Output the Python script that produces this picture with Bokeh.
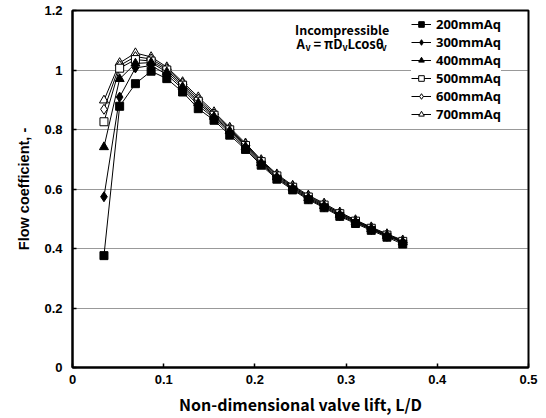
from bokeh.plotting import figure
from bokeh.models import Range1d, FixedTicker, Legend, LegendItem, Label
from bokeh.embed import file_html
from bokeh.resources import INLINE

# ---- data ----
ld = [0.0345, 0.0517, 0.0690, 0.0862, 0.1034, 0.1207, 0.1379, 0.1552, 0.1724, 0.1897,
      0.2069, 0.2241, 0.2414, 0.2586, 0.2759, 0.2931, 0.3103, 0.3276, 0.3448, 0.3621]

cf_200 = [0.376, 0.878, 0.954, 0.996, 0.971, 0.926, 0.870, 0.831, 0.781, 0.733,
          0.680, 0.633, 0.597, 0.564, 0.537, 0.508, 0.484, 0.461, 0.438, 0.415]
cf_300 = [0.574, 0.909, 1.007, 1.015, 0.985, 0.936, 0.881, 0.838, 0.789, 0.738,
          0.684, 0.637, 0.600, 0.567, 0.540, 0.511, 0.487, 0.464, 0.441, 0.420]
cf_400 = [0.741, 0.970, 1.022, 1.025, 0.993, 0.943, 0.889, 0.843, 0.795, 0.742,
          0.688, 0.640, 0.603, 0.570, 0.543, 0.514, 0.490, 0.466, 0.443, 0.422]
cf_500 = [0.826, 1.006, 1.035, 1.030, 1.000, 0.949, 0.895, 0.848, 0.799, 0.746,
          0.692, 0.644, 0.606, 0.573, 0.546, 0.517, 0.492, 0.468, 0.445, 0.424]
cf_600 = [0.868, 1.015, 1.045, 1.037, 1.005, 0.955, 0.902, 0.853, 0.803, 0.750,
          0.695, 0.647, 0.609, 0.576, 0.549, 0.519, 0.494, 0.470, 0.447, 0.426]
cf_700 = [0.898, 1.024, 1.057, 1.044, 1.010, 0.960, 0.909, 0.859, 0.807, 0.754,
          0.698, 0.650, 0.612, 0.579, 0.552, 0.522, 0.496, 0.472, 0.449, 0.428]

series_labels = ["200mmAq", "300mmAq", "400mmAq", "500mmAq", "600mmAq", "700mmAq"]
series_values = [cf_200, cf_300, cf_400, cf_500, cf_600, cf_700]

x_ticks = [0, 0.1, 0.2, 0.3, 0.4, 0.5]
x_tick_labels = ["0", "0.1", "0.2", "0.3", "0.4", "0.5"]
y_ticks = [0, 0.2, 0.4, 0.6, 0.8, 1.0, 1.2]
y_tick_labels = ["0", "0.2", "0.4", "0.6", "0.8", "1", "1.2"]

# ---- styles ----
markers = ["square", "diamond", "triangle", "square", "diamond", "triangle"]
fills = ["black", "black", "black", "white", "white", "white"]
sizes = [8, 10, 9, 8, 10, 9]

TXT_FONT = "Noto Sans CJK KR"
NUM_FONT = "Arial"
LEG_FONT = "Open Sans"

p = figure(width=546, height=418, output_backend="svg", toolbar_location=None,
           x_range=Range1d(0, 0.5), y_range=Range1d(0, 1.2),
           min_border_left=72, min_border_right=18, min_border_top=10, min_border_bottom=50,
           background_fill_color="white", border_fill_color="white")

p.outline_line_color = "black"
p.outline_line_width = 2

p.xgrid.grid_line_color = None
p.ygrid.grid_line_color = "#333333"
p.ygrid.grid_line_dash = "1 1"
p.ygrid.grid_line_width = 1

p.xaxis.ticker = FixedTicker(ticks=x_ticks)
p.yaxis.ticker = FixedTicker(ticks=y_ticks)
p.xaxis.major_label_overrides = {t: s for t, s in zip(x_ticks, x_tick_labels)}
p.yaxis.major_label_overrides = {t: s for t, s in zip(y_ticks, y_tick_labels)}

for ax in (p.xaxis, p.yaxis):
    ax.axis_line_color = "black"
    ax.axis_line_width = 2
    ax.major_tick_in = 4
    ax.major_tick_out = 0
    ax.major_tick_line_color = "black"
    ax.major_tick_line_width = 1.5
    ax.minor_tick_line_color = None
    ax.major_label_text_font = NUM_FONT
    ax.major_label_text_font_style = "bold"
    ax.major_label_text_font_size = "13px"
    ax.major_label_text_color = "black"

p.xaxis.major_label_standoff = 7
p.yaxis.major_label_standoff = 10

p.xaxis.axis_label = "Non-dimensional valve lift, L/D"
p.xaxis.axis_label_text_font = TXT_FONT
p.xaxis.axis_label_text_font_style = "bold"
p.xaxis.axis_label_text_font_size = "16px"
p.xaxis.axis_label_text_color = "black"
p.xaxis.axis_label_standoff = 5

p.yaxis.axis_label = "Flow coefficient, -"
p.yaxis.axis_label_text_font = NUM_FONT
p.yaxis.axis_label_text_font_style = "bold"
p.yaxis.axis_label_text_font_size = "14.5px"
p.yaxis.axis_label_text_color = "black"
p.yaxis.axis_label_standoff = 9

# draw high-pressure (open) series first so filled markers sit on top
items = {}
order = list(range(len(series_labels)))[::-1]
for i in order:
    lab, vals, m, f, s = series_labels[i], series_values[i], markers[i], fills[i], sizes[i]
    lr = p.line(ld, vals, line_color="black", line_width=1)
    sr = p.scatter(ld, vals, marker=m, size=s, fill_color=f, line_color="black", line_width=1)
    items[i] = LegendItem(label=lab, renderers=[lr, sr])

legend = Legend(items=[items[i] for i in range(len(series_labels))], location=(339, 244),
                glyph_width=20, glyph_height=14, label_height=14, label_standoff=5,
                spacing=0, padding=4, margin=0,
                border_line_color=None, background_fill_color="white", background_fill_alpha=1,
                label_text_font=LEG_FONT, label_text_font_style="bold",
                label_text_font_size="13px", label_text_color="black")
p.add_layout(legend)

# ---- annotation ----
ann_kw = dict(text_font=TXT_FONT, text_font_style="bold", text_color="black",
              text_baseline="middle")
p.add_layout(Label(x=0.2957, y=1.135, text="Incompressible", text_align="center",
                   text_font_size="12.5px", **ann_kw))

fx, fy = 0.2456, 1.088
pieces = [("A", 0, 0, "13px"), ("v", 9, -4, "9px"), ("\u00a0=\u00a0\u03c0D", 14, 0, "13px"),
          ("v", 46, -4, "9px"), ("Lcos\u03b8", 51, 0, "13px"), ("v", 85, -4, "9px")]
for t, dx, dy, fs in pieces:
    p.add_layout(Label(x=fx, y=fy, x_offset=dx, y_offset=dy, text=t, text_align="left",
                       text_font_size=fs, **ann_kw))

open("out.html", "w").write(file_html(p, INLINE))
